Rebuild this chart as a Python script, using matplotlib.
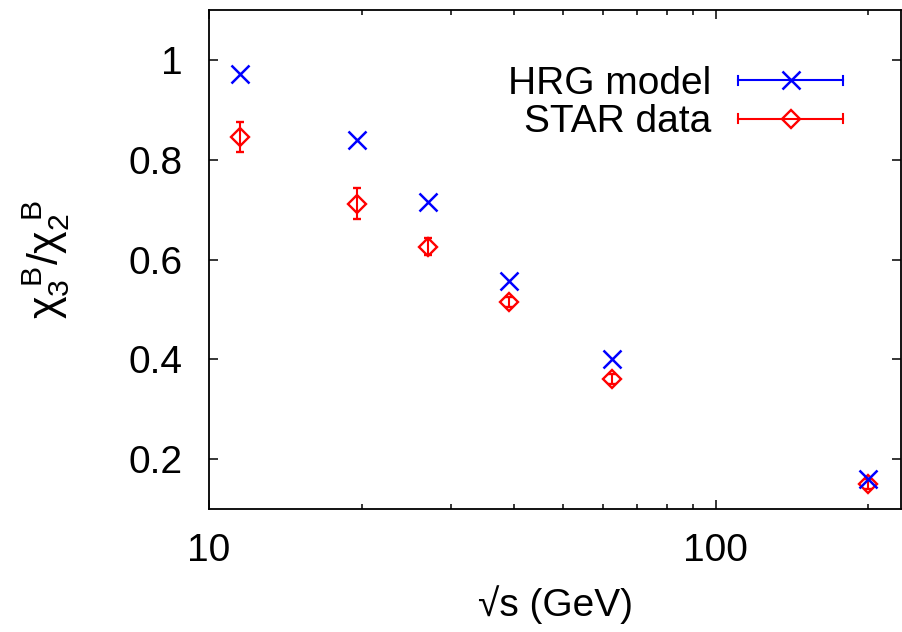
"""
Baryon susceptibility ratio chi3/chi2 vs collision energy:
HRG model points against STAR data, gnuplot-like styling.
"""

import matplotlib
matplotlib.use('Agg')
import matplotlib.pyplot as plt
from matplotlib.lines import Line2D
from matplotlib.legend_handler import HandlerBase
from matplotlib.ticker import LogLocator, NullFormatter, FixedLocator, FixedFormatter

# ---------------------------------------------------------------
# data
# ---------------------------------------------------------------
sqrt_s     = [11.5, 19.6, 27.0, 39.0, 62.4, 200.0]
hrg_ratio  = [0.972, 0.840, 0.716, 0.557, 0.400, 0.160]
star_ratio = [0.846, 0.712, 0.626, 0.514, 0.360, 0.150]
star_err   = [0.030, 0.031, 0.017, 0.010, 0.010, 0.010]

x_ticks = [10, 100]
x_tick_labels = ['10', '100']
y_ticks = [0.2, 0.4, 0.6, 0.8, 1.0]
y_tick_labels = ['0.2', '0.4', '0.6', '0.8', '1']

BLUE = '#0000ff'
RED  = '#ff0000'
FS   = 28

plt.rcParams['font.family'] = ['Liberation Sans', 'DejaVu Sans']
plt.rcParams['mathtext.fontset'] = 'custom'
plt.rcParams['mathtext.rm'] = 'Liberation Sans'
plt.rcParams['mathtext.it'] = 'Liberation Sans'
plt.rcParams['mathtext.bf'] = 'Liberation Sans:bold'


# gnuplot style key sample: horizontal bar with end caps, marker in middle
class HandlerKeyErrorbar(HandlerBase):
    def create_artists(self, legend, orig_handle, xdescent, ydescent,
                       width, height, fontsize, trans):
        c  = orig_handle.get_color()
        lw = 1.5
        y  = height / 2 - ydescent
        x0, x1 = -xdescent, width - xdescent
        cap = 3.2
        arts = [
            Line2D([x0, x1], [y, y], color=c, lw=lw),
            Line2D([x0, x0], [y - cap, y + cap], color=c, lw=lw),
            Line2D([x1, x1], [y - cap, y + cap], color=c, lw=lw),
            Line2D([(x0 + x1) / 2], [y], color=c, ls='none',
                   marker=orig_handle.get_marker(),
                   markersize=orig_handle.get_markersize(),
                   markeredgewidth=orig_handle.get_markeredgewidth(),
                   markerfacecolor='none', markeredgecolor=c),
        ]
        for a in arts:
            a.set_transform(trans)
        return arts


fig = plt.figure(figsize=(9.02, 6.32), dpi=100)
ax = fig.add_axes([209 / 902, 1 - 509 / 632, (901 - 209) / 902, (509 - 10) / 632])

hrg = ax.errorbar(sqrt_s, hrg_ratio, yerr=[0] * len(sqrt_s), fmt='x',
                  color=BLUE, ms=13, mew=1.8, elinewidth=1.5, capsize=0,
                  label='HRG model', zorder=3)
star = ax.errorbar(sqrt_s, star_ratio, yerr=star_err, fmt='D',
                   color=RED, ms=9, mew=1.7, mfc='none', elinewidth=1.5,
                   capsize=3, capthick=1.5, label='STAR data', zorder=2)

ax.set_xscale('log')
ax.set_xlim(10, 232)
ax.set_ylim(0.1, 1.1)

ax.xaxis.set_major_locator(FixedLocator(x_ticks))
ax.xaxis.set_major_formatter(FixedFormatter(x_tick_labels))
ax.xaxis.set_minor_locator(LogLocator(base=10, subs=range(2, 10)))
ax.xaxis.set_minor_formatter(NullFormatter())
ax.set_yticks(y_ticks)
ax.set_yticklabels(y_tick_labels)

ax.tick_params(which='both', direction='in', top=True, right=True,
               labelsize=FS, width=1.1, colors='black')
ax.tick_params(axis='y', which='major', length=6.5, pad=19)
ax.tick_params(axis='x', which='major', length=6.5, pad=17)
ax.tick_params(which='minor', length=3.6)
for sp in ax.spines.values():
    sp.set_linewidth(1.3)

ax.set_xlabel('\u221as (GeV)', fontsize=FS, labelpad=12)
ax.set_ylabel(r'$\chi_3^{\ B}/\chi_2^{\ B}$', fontsize=31)
ax.yaxis.set_label_coords((72 - 209) / 692, 0.5)

ax.legend(handles=[hrg[0], star[0]], labels=['HRG model', 'STAR data'],
          handler_map={Line2D: HandlerKeyErrorbar()},
          loc='upper right', bbox_to_anchor=(843 / 902, 1 - 66 / 632),
          bbox_transform=fig.transFigure, frameon=False, markerfirst=False,
          borderpad=0, borderaxespad=0, fontsize=FS, handlelength=2.7,
          handletextpad=0.7, labelspacing=0.06)

fig.savefig('out.png', dpi=100)
